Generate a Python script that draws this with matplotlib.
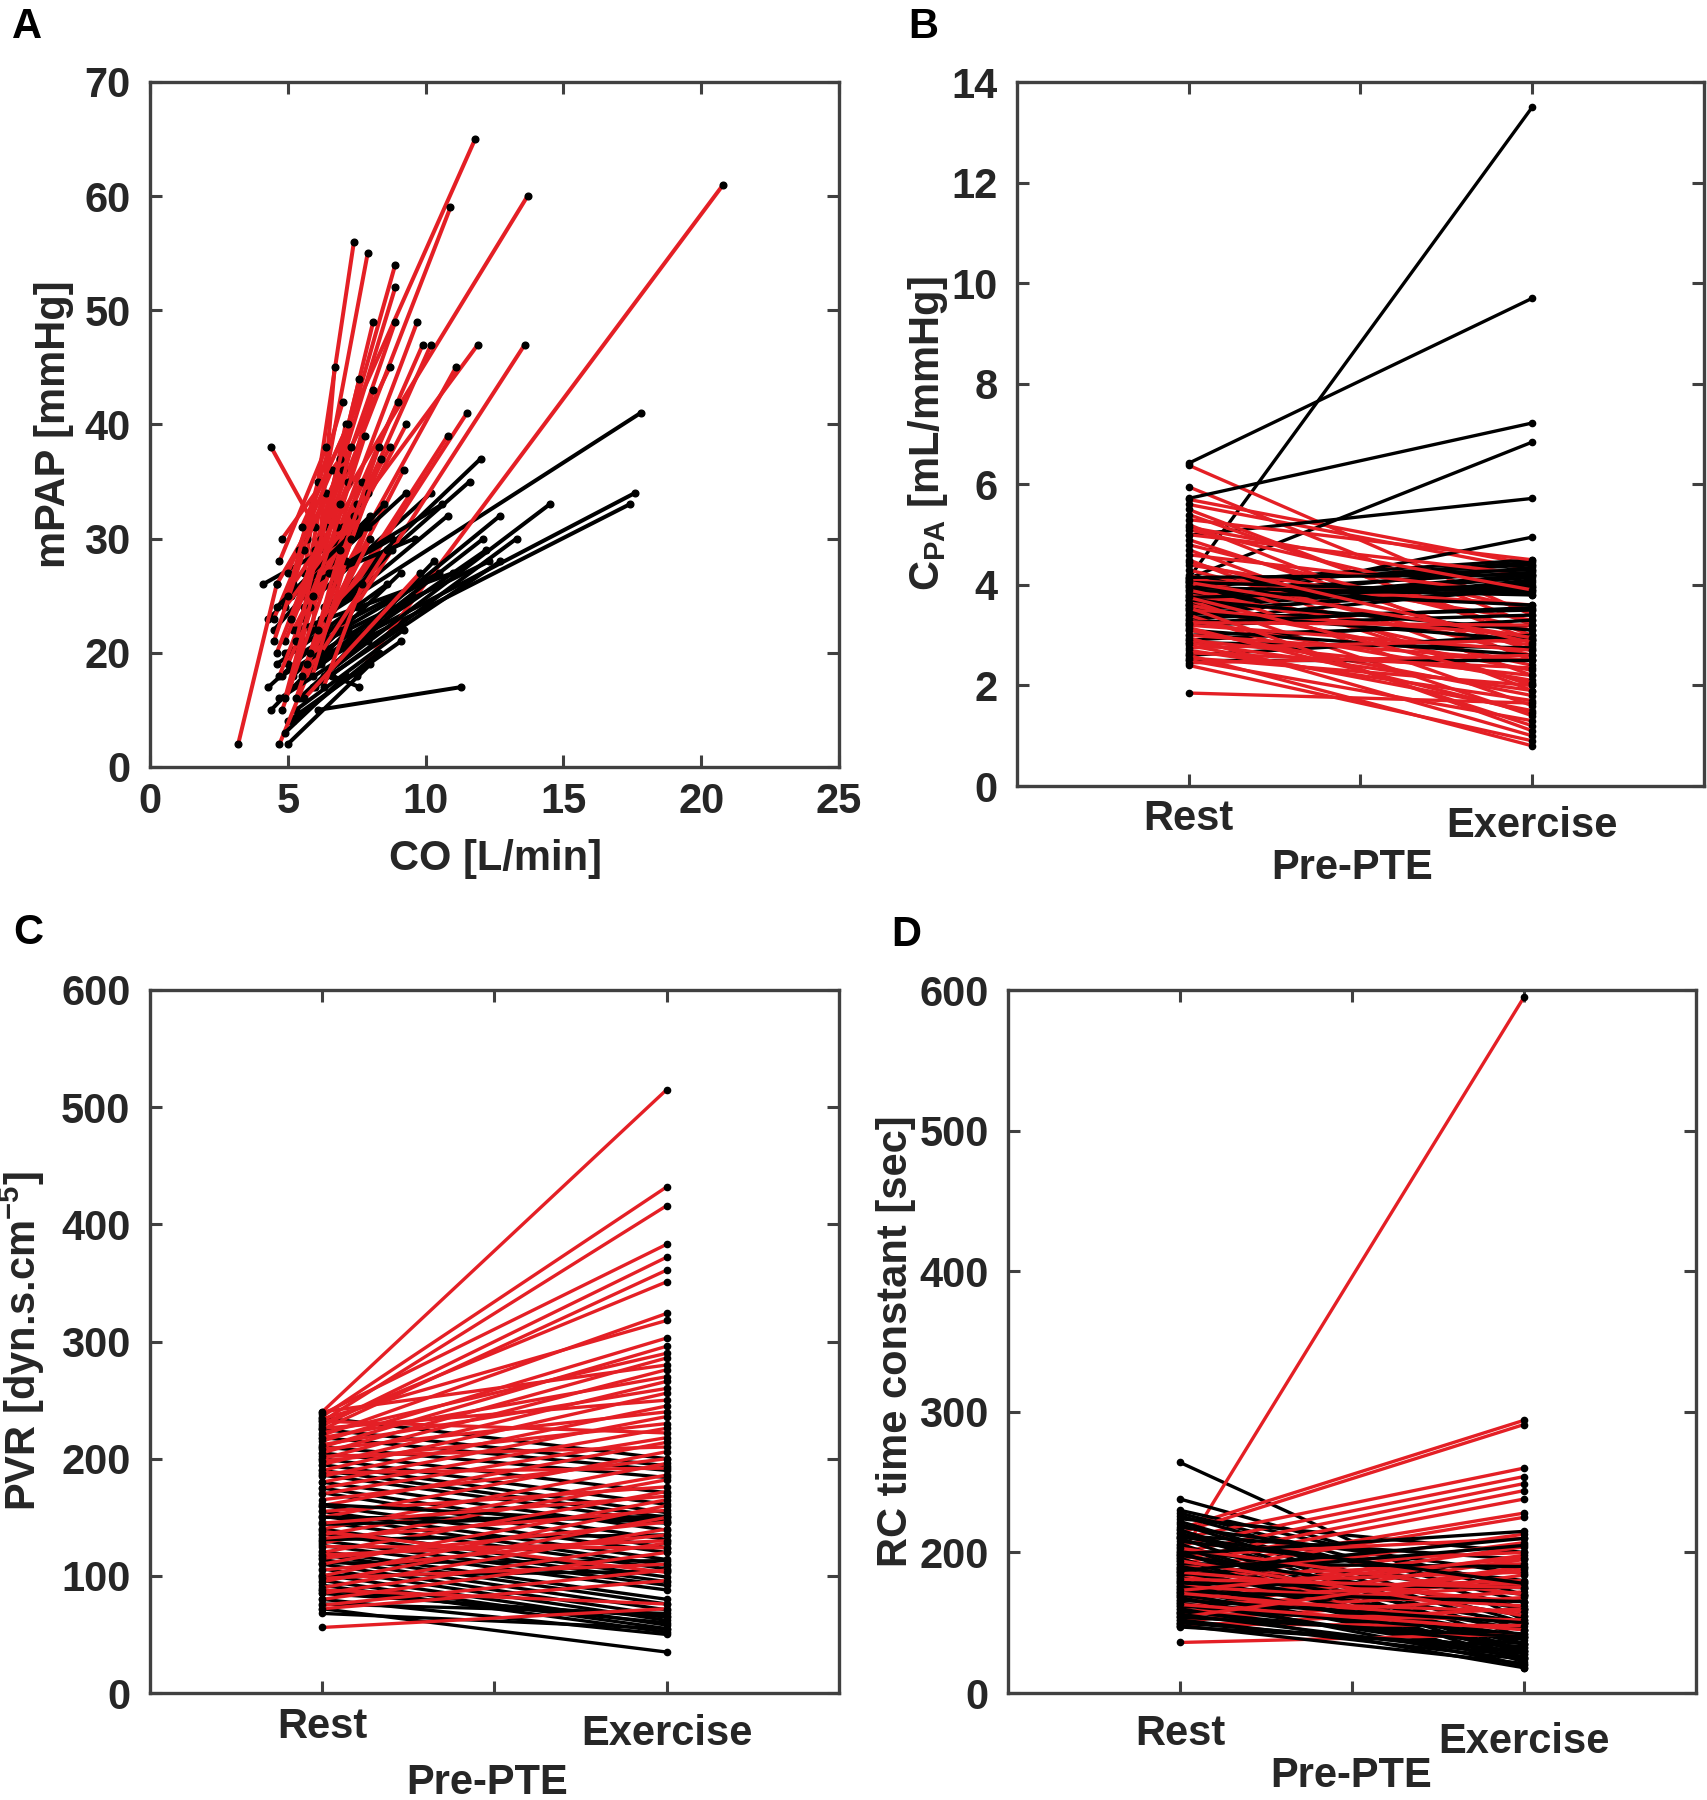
import matplotlib
matplotlib.use("Agg")
import matplotlib.pyplot as plt

plt.rcParams["font.family"] = ["Liberation Sans", "DejaVu Sans"]
plt.rcParams["font.weight"] = "bold"
plt.rcParams["mathtext.fontset"] = "custom"
plt.rcParams["mathtext.rm"] = "Liberation Sans:bold"
plt.rcParams["mathtext.bf"] = "Liberation Sans:bold"
plt.rcParams["mathtext.default"] = "rm"

RED = "#e41f25"
BLACK = "#000000"
TXT = "#262626"
SPINE = "#404040"

conditions = ["Rest", "Exercise"]

# ---- Panel A: CO vs mPAP (rest -> exercise) ----
a_black_co_rest = [6.2, 6.5, 6.0, 6.8, 6.4, 5.6, 6.3, 6.1, 5.8, 6.0, 5.7, 6.2, 5.9, 5.5, 5.2, 5.3, 5.0, 6.1, 5.0, 5.2,
                   4.4, 4.3, 4.6, 5.4, 4.5, 4.3, 4.9, 5.6, 6.6, 4.1, 6.6, 5.1, 4.8, 5.5, 4.7, 5.9, 4.6, 5.3, 6.3, 4.9]
a_black_mpap_rest = [23, 20, 19, 25, 24, 24, 18, 19, 22, 17, 18, 19, 17, 16, 18, 15, 14, 15, 12, 14,
                     15, 17, 19, 16, 22, 23, 20, 21, 18, 26, 27, 25, 18, 20, 16, 26, 24, 22, 21, 13]
a_black_co_ex = [17.8, 17.6, 17.4, 12.0, 11.6, 10.2, 14.5, 12.7, 10.8, 13.3, 12.1, 12.2, 12.7, 10.3, 9.1, 9.2, 9.1, 11.3, 8.0, 8.3,
                 7.2, 7.5, 8.6, 9.5, 8.5, 9.3, 10.5, 8.8, 7.6, 7.8, 9.6, 8.8, 8.2, 9.8, 7.9, 10.6, 8.0, 11.0, 12.3, 7.1]
a_black_mpap_ex = [41, 34, 33, 37, 35, 34, 33, 32, 32, 30, 30, 29, 28, 28, 27, 22, 21, 17, 19, 20,
                   22, 24, 26, 25, 33, 34, 27, 29, 17, 31, 30, 30, 23, 26, 21, 33, 32, 27, 28, 18]

a_red_co_rest = [5.9, 6.6, 7.5, 5.6, 5.8, 5.5, 6.0, 6.4, 6.2, 5.3, 6.1, 6.8, 6.5, 7.0, 6.9, 6.3, 5.7, 5.9, 7.2, 6.7,
                 5.4, 6.0, 5.2, 6.4, 6.1, 5.6, 4.4, 3.2, 4.7, 4.6, 4.8, 4.5, 4.9, 5.0, 5.1, 4.7, 5.3, 5.0, 5.5, 4.6,
                 5.2, 5.7, 4.9, 5.4, 5.8, 4.8, 5.1, 6.2, 5.6, 5.3, 4.5, 5.9, 6.6, 5.0, 4.7, 6.3, 5.5, 4.9, 5.8, 6.1]
a_red_mpap_rest = [33, 32, 18, 27, 28, 25, 29, 31, 30, 24, 26, 30, 27, 31, 22, 24, 30, 22, 25, 28,
                   20, 21, 22, 23, 25, 23, 38, 12, 12, 26, 30, 23, 21, 19, 17, 18, 16, 27, 18, 20,
                   26, 19, 24, 29, 24, 15, 23, 20, 16, 21, 21, 18, 26, 25, 28, 17, 31, 16, 20, 22]
a_red_co_ex = [11.8, 13.7, 20.8, 7.4, 7.9, 8.9, 8.9, 10.9, 8.1, 8.9, 9.7, 9.9, 10.2, 11.9, 13.6, 11.1, 8.7, 6.7, 11.5, 9.3,
               7.1, 10.8, 8.7, 9.2, 8.1, 9.0, 6.0, 4.6, 7.9, 7.0, 6.9, 6.4, 7.2, 7.5, 7.3, 6.8, 7.9, 6.6, 8.4, 6.2,
               7.7, 8.0, 7.4, 7.0, 7.8, 6.5, 6.9, 8.6, 9.8, 7.6, 5.6, 7.1, 8.3, 6.1, 6.4, 7.7, 7.2, 5.9, 7.3, 6.9]
a_red_mpap_ex = [65, 60, 61, 56, 55, 54, 52, 59, 49, 49, 49, 47, 47, 47, 47, 45, 45, 45, 41, 40,
                 40, 39, 38, 36, 43, 42, 31, 26, 31, 36, 37, 34, 35, 33, 38, 31, 34, 36, 37, 30,
                 35, 30, 32, 42, 39, 27, 33, 29, 27, 44, 29, 28, 38, 35, 38, 26, 40, 25, 30, 29]

# ---- Panel B: C_PA ----
b_black_rest = [4.13, 6.42, 5.72, 4.13, 4.99, 3.6, 4.05, 3.95, 4.0, 3.7, 4.1, 3.85, 3.65, 3.6, 3.4, 3.55, 3.8, 3.3,
                3.5, 4.05, 3.9, 3.35, 3.2, 2.9, 3.0, 3.7, 2.6, 2.85, 3.1, 3.45, 2.5, 4.15, 3.75, 3.95, 3.25]
b_black_ex = [13.5, 9.7, 7.22, 6.84, 5.72, 4.95, 4.5, 4.45, 4.4, 4.35, 4.3, 4.25, 4.2, 4.15, 4.1, 4.05, 4.0, 3.95,
              3.9, 3.85, 3.6, 3.5, 3.4, 3.3, 3.2, 3.1, 3.0, 2.75, 2.6, 2.9, 2.5, 4.2, 3.95, 3.8, 3.55]
b_red_rest = [6.38, 5.95, 5.7, 5.6, 5.5, 5.4, 5.3, 5.2, 5.1, 5.0, 4.9, 4.8, 4.7, 4.6, 4.5, 4.4, 4.3, 4.2, 4.1, 4.0,
              3.9, 3.8, 3.7, 3.6, 3.5, 3.4, 3.3, 3.2, 3.1, 3.0, 2.95, 2.9, 2.8, 2.75, 2.7, 2.6, 2.55, 2.5, 2.45, 2.4,
              1.85, 4.05, 3.55, 3.25, 2.65, 5.15, 4.45, 3.75, 3.15, 2.85]
b_red_ex = [3.4, 3.2, 4.4, 4.3, 2.9, 3.0, 4.5, 2.5, 3.5, 4.2, 2.7, 3.1, 2.2, 3.8, 1.9, 3.3, 2.6, 2.0, 3.6, 1.6,
            2.4, 2.8, 1.4, 2.3, 3.0, 1.2, 2.1, 2.7, 1.8, 2.5, 1.0, 2.2, 1.5, 2.9, 1.7, 0.8, 2.0, 1.3, 2.6, 0.9,
            1.65, 2.95, 1.1, 3.2, 2.35, 3.9, 2.85, 2.05, 1.45, 1.9]

# ---- Panel C: PVR ----
c_black_rest = [235, 225, 218, 210, 205, 200, 195, 190, 186, 180, 175, 171, 160, 155, 151, 146, 140, 136, 130, 126,
                121, 118, 114, 110, 106, 101, 96, 92, 88, 85, 80, 76, 72, 68, 150, 144, 161, 131, 111, 100]
c_black_ex = [200, 194, 190, 184, 171, 161, 154, 150, 146, 139, 131, 124, 120, 114, 109, 106, 99, 95, 92, 88,
              80, 76, 71, 66, 62, 58, 55, 52, 60, 65, 50, 68, 35, 55, 148, 151, 145, 135, 113, 104]
c_red_rest = [240, 236, 232, 238, 228, 225, 230, 220, 234, 215, 210, 222, 205, 240, 200, 218, 195, 212, 190, 226,
              185, 208, 180, 198, 175, 232, 170, 160, 202, 150, 165, 140, 188, 135, 128, 155, 120, 145, 110, 100,
              132, 95, 115, 90, 105, 85, 125, 80, 98, 75, 138, 72, 56, 88, 118]
c_red_ex = [515, 432, 416, 383, 372, 361, 351, 324, 318, 303, 296, 290, 286, 280, 276, 270, 266, 260, 256, 250,
            245, 240, 236, 230, 226, 222, 218, 214, 210, 206, 200, 196, 192, 186, 182, 176, 172, 168, 165, 160,
            156, 150, 146, 140, 135, 128, 124, 120, 110, 105, 103, 96, 72, 76, 130]

# ---- Panel D: RC time constant ----
d_black_rest = [264, 238, 230, 228, 226, 224, 222, 220, 218, 216, 214, 212, 210, 208, 206, 204, 202, 200, 198, 196,
                194, 192, 190, 188, 186, 184, 182, 180, 178, 176, 174, 172, 170, 168, 166, 164, 162, 160, 158, 156,
                154, 152, 150, 148, 147, 187, 199, 211]
d_black_ex = [152, 170, 175, 165, 160, 200, 150, 145, 185, 140, 135, 195, 130, 180, 128, 125, 170, 122, 160, 118,
              155, 190, 150, 135, 145, 205, 140, 130, 175, 138, 125, 165, 132, 120, 150, 128, 142, 118, 135, 126,
              140, 124, 130, 121, 133, 210, 215, 178]
d_red_rest = [197, 217, 214, 210, 205, 200, 195, 192, 188, 185, 180, 198, 175, 170, 190, 165, 160, 183, 155, 178,
              150, 172, 168, 162, 158, 203, 152, 186, 176, 148, 166, 194, 157, 171, 149, 136, 163, 181, 154, 173]
d_red_ex = [595, 294, 291, 260, 254, 249, 244, 238, 228, 225, 213, 210, 207, 204, 200, 198, 195, 192, 190, 186,
            184, 180, 178, 176, 172, 170, 168, 165, 162, 160, 158, 155, 152, 150, 148, 142, 145, 175, 188, 196]


def draw_pairs(ax, black_pairs, red_pairs, lw, ms):
    # interleave the two groups so neither is fully on top
    n = max(len(black_pairs), len(red_pairs))
    for i in range(n):
        for pairs, col in ((black_pairs, BLACK), (red_pairs, RED)):
            if i < len(pairs):
                xs, ys = pairs[i]
                ax.plot(xs, ys, color=col, lw=lw, marker="o", ms=ms,
                        mfc="black", mec="black", solid_capstyle="round")


def style_axes(ax):
    for sp in ax.spines.values():
        sp.set_color(SPINE)
        sp.set_linewidth(2.4)
    ax.tick_params(direction="in", top=True, right=True, length=8.5, width=2.2,
                   color=SPINE, labelcolor=TXT, labelsize=30)
    ax.tick_params(axis="y", pad=14)


fig = plt.figure(figsize=(17.08, 18.0), dpi=100)

axA = fig.add_axes([0.0878, 0.5739, 0.4034, 0.3806])
axB = fig.add_axes([0.5954, 0.5633, 0.4022, 0.3911])
axC = fig.add_axes([0.0878, 0.0594, 0.4034, 0.3906])
axD = fig.add_axes([0.5902, 0.0594, 0.4028, 0.3906])

# Panel A
black_A = [([a_black_co_rest[i], a_black_co_ex[i]], [a_black_mpap_rest[i], a_black_mpap_ex[i]])
           for i in range(len(a_black_co_rest))]
red_A = [([a_red_co_rest[i], a_red_co_ex[i]], [a_red_mpap_rest[i], a_red_mpap_ex[i]])
         for i in range(len(a_red_co_rest))]
draw_pairs(axA, black_A, red_A, lw=2.9, ms=4.8)
axA.set_xlim(0, 25)
axA.set_ylim(10, 70)
axA.set_xticks([0, 5, 10, 15, 20, 25])
axA.set_yticks([10, 20, 30, 40, 50, 60, 70])
axA.set_yticklabels(["0", "20", "30", "40", "50", "60", "70"])
style_axes(axA)
axA.tick_params(axis="x", pad=11)
axA.set_xlabel("CO [L/min]", fontsize=30, color=TXT, fontweight="bold")
axA.set_ylabel("mPAP [mmHg]", fontsize=30, color=TXT, fontweight="bold")
axA.xaxis.set_label_coords(0.502, -0.105)
axA.yaxis.set_label_coords(-0.110, 0.5)

# Panels B, C, D share the Rest/Exercise layout
paired = [
    (axB, b_black_rest, b_black_ex, b_red_rest, b_red_ex, (0, 14), list(range(0, 15, 2)), None,
     "C$_{PA}$ [mL/mmHg]", -0.0975, -0.088, 0.488, (9, 14)),
    (axC, c_black_rest, c_black_ex, c_red_rest, c_red_ex, (0, 600), list(range(0, 601, 100)), None,
     "PVR [dyn.s.cm$^{-5}$]", -0.149, -0.099, 0.49, (10, 15)),
    (axD, d_black_rest, d_black_ex, d_red_rest, d_red_ex, (100, 600), list(range(100, 601, 100)),
     ["0", "200", "300", "400", "500", "600"],
     "RC time constant [sec]", -0.134, -0.090, 0.4985, (15, 21)),
]

for ax, br, be, rr, re_, ylim, yt, ytl, ylab, ylx, xly, xlx, pads in paired:
    blk = [([1, 2], [br[i], be[i]]) for i in range(len(br))]
    red = [([1, 2], [rr[i], re_[i]]) for i in range(len(rr))]
    draw_pairs(ax, blk, red, lw=2.4, ms=4.5)
    ax.set_xlim(0.5, 2.5)
    ax.set_ylim(*ylim)
    ax.set_xticks([1, 1.5, 2])
    ax.set_xticklabels([conditions[0], "", conditions[1]])
    ax.set_yticks(yt)
    if ytl is not None:
        ax.set_yticklabels(ytl)
    style_axes(ax)
    ticks = ax.xaxis.get_major_ticks()
    ticks[0].set_pad(pads[0])
    ticks[2].set_pad(pads[1])
    ax.set_xlabel("Pre-PTE", fontsize=30, color=TXT, fontweight="bold")
    ax.set_ylabel(ylab, fontsize=30, color=TXT, fontweight="bold")
    ax.xaxis.set_label_coords(xlx, xly)
    ax.yaxis.set_label_coords(ylx, 0.5)

# panel letters
for letter, x, y in (("A", 0.007, 0.9789), ("B", 0.532, 0.9789),
                     ("C", 0.008, 0.4756), ("D", 0.522, 0.4744)):
    fig.text(x, y, letter, fontsize=30, fontweight="bold", color="black", va="baseline", ha="left")

fig.savefig("out.png", dpi=100, facecolor="white")
